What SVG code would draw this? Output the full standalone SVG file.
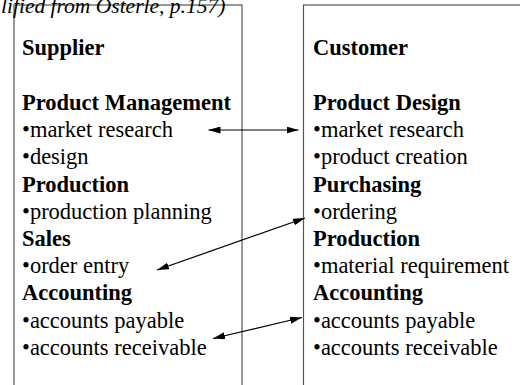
<svg xmlns="http://www.w3.org/2000/svg" width="520" height="385" viewBox="0 0 520 385">
<style>
text{font-family:"Liberation Serif","Times New Roman",serif;font-size:22.5px;fill:#000}
.b{font-weight:bold}
.title{font-style:italic;font-size:21.5px}
.box{fill:none;stroke:#555;stroke-width:1.2}
.conn{stroke:#000;stroke-width:1.2;fill:none;marker-start:url(#ah);marker-end:url(#ah)}
</style>
<defs>
<marker id="ah" viewBox="0 0 12 7" refX="12" refY="3.5" markerWidth="12" markerHeight="7" markerUnits="userSpaceOnUse" orient="auto-start-reverse">
<path d="M0,0 L12,3.5 L0,7 z" fill="#000"/>
</marker>
</defs>
<rect width="520" height="385" fill="#fff"/>
<g id="supplier">
<rect class="box" x="14" y="5" width="228" height="400"/>
<text x="22" y="55" class="b">Supplier</text>
<text x="22" y="110" class="b">Product Management</text>
<text x="22" y="137.2">•market research</text>
<text x="22" y="164.4">•design</text>
<text x="22" y="191.6" class="b">Production</text>
<text x="22" y="218.8">•production planning</text>
<text x="22" y="246" class="b">Sales</text>
<text x="22" y="273.2">•order entry</text>
<text x="22" y="300.4" class="b">Accounting</text>
<text x="22" y="327.6">•accounts payable</text>
<text x="22" y="354.8">•accounts receivable</text>
</g>
<g id="customer">
<rect class="box" x="303.5" y="5" width="230" height="400"/>
<text x="313" y="55" class="b">Customer</text>
<text x="313" y="110" class="b">Product Design</text>
<text x="313" y="137.2">•market research</text>
<text x="313" y="164.4">•product creation</text>
<text x="313" y="191.6" class="b">Purchasing</text>
<text x="313" y="218.8">•ordering</text>
<text x="313" y="246" class="b">Production</text>
<text x="313" y="273.2">•material requirement</text>
<text x="313" y="300.4" class="b">Accounting</text>
<text x="313" y="327.6">•accounts payable</text>
<text x="313" y="354.8">•accounts receivable</text>
</g>
<g id="caption">
<text x="1" y="13" class="title">lified from Osterle, p.157)</text>
</g>
<g id="connectors">
<line class="conn" x1="208.5" y1="130" x2="298.5" y2="130"/>
<line class="conn" x1="157" y1="270" x2="305" y2="218"/>
<line class="conn" x1="213" y1="338.5" x2="302" y2="317.5"/>
</g>
</svg>
